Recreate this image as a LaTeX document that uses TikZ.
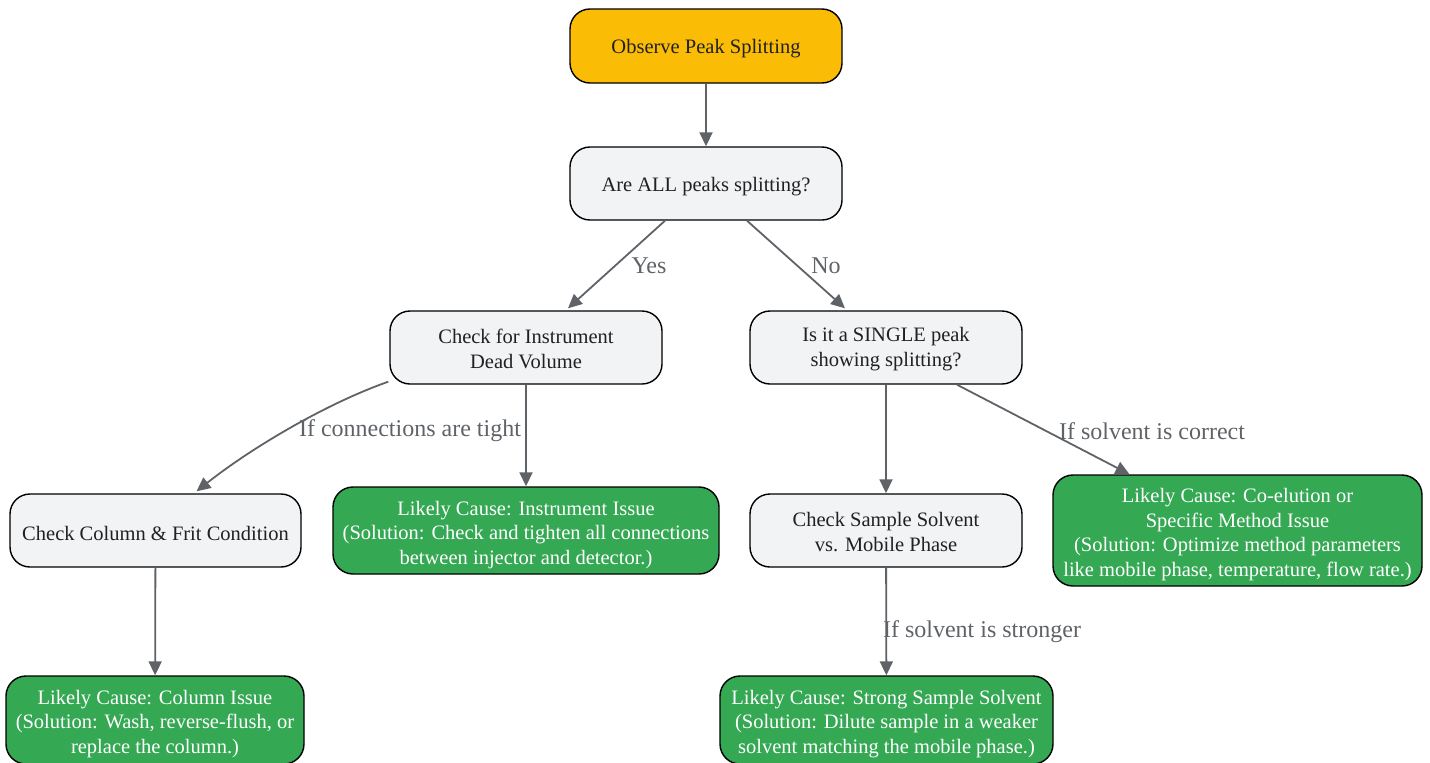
\documentclass[tikz,border=0pt]{standalone}
\usepackage{fontspec}
\setmainfont{Liberation Serif}
\usetikzlibrary{arrows.meta}
\definecolor{cyellow}{HTML}{FBBC05}
\definecolor{cgray}{HTML}{F1F3F4}
\definecolor{cgreen}{HTML}{34A853}
\definecolor{ctext}{HTML}{202124}
\definecolor{cedge}{HTML}{5F6368}
\newcommand\mytup[1]{\rule{0pt}{#1pt}}
\tikzset{
  box/.style={draw=black, line width=1.4pt, rounded corners=20pt, align=center, inner sep=0pt,
    font=\fontsize{20.5}{24.5}\selectfont},
  startbox/.style={box, fill=cyellow, text=ctext},
  stepbox/.style={box, fill=cgray, text=ctext},
  resbox/.style={box, fill=cgreen, text=white},
  edge/.style={draw=cedge, line width=1.8pt, -{Triangle[length=14pt,width=13pt]}},
  elabel/.style={text=cedge, font=\fontsize{24}{28}\selectfont, inner sep=0pt}
}
\begin{document}
\begin{tikzpicture}[x=1pt,y=-1pt]
\useasboundingbox (0,0) rectangle (1430,763);
\node[startbox, minimum width=272pt, minimum height=74pt] (n1) at (706,46) {\mytup{20}Observe Peak Splitting};
\node[stepbox, minimum width=272pt, minimum height=73pt] (n2) at (706,183.5) {\mytup{20}Are ALL peaks splitting?};
\node[stepbox, minimum width=272pt, minimum height=73pt] (n3) at (526,347.5) {\mytup{17}Check for Instrument\\Dead Volume};
\node[stepbox, minimum width=272pt, minimum height=73pt] (n4) at (886,347.5) {\mytup{17}Is it a SINGLE peak\\showing splitting?};
\node[stepbox, minimum width=291pt, minimum height=73pt] (n5) at (155.5,530.5) {\mytup{20}Check Column \& Frit Condition};
\node[resbox, minimum width=386pt, minimum height=87pt] (n6) at (526,530.5) {\mytup{23}Likely Cause: Instrument Issue\\(Solution: Check and tighten all connections\\between injector and detector.)};
\node[stepbox, minimum width=272pt, minimum height=73pt] (n7) at (886,530.5) {\mytup{17}Check Sample Solvent\\vs. Mobile Phase};
\node[resbox, minimum width=369pt, minimum height=111pt] (n8) at (1237.5,530.5) {\mytup{22.5}Likely Cause: Co-elution or\\Specific Method Issue\\(Solution: Optimize method parameters\\like mobile phase, temperature, flow rate.)};
\node[resbox, minimum width=298pt, minimum height=88pt] (n9) at (155,720) {\mytup{22}Likely Cause: Column Issue\\(Solution: Wash, reverse-flush, or\\replace the column.)};
\node[resbox, minimum width=333pt, minimum height=88pt] (n10) at (886.5,720) {\mytup{22}Likely Cause: Strong Sample Solvent\\(Solution: Dilute sample in a weaker\\solvent matching the mobile phase.)};

\draw[edge] (n1) -- (n2);
\draw[edge] ([xshift=-41pt]n2.south) -- ([xshift=42pt,yshift=2pt]n3.north);
\draw[edge] ([xshift=41pt]n2.south) -- ([xshift=-41pt,yshift=2pt]n4.north);
\draw[edge] ([xshift=-1pt,yshift=3pt]n3.south west) .. controls +(-60,21) and +(57,-45) .. ([xshift=41pt,yshift=2pt]n5.north);
\draw[edge] (n3) -- (n6);
\draw[edge] (n4) -- (n7);
\draw[edge] ([xshift=71pt]n4.south) -- ([xshift=-108pt]n8.north);
\draw[edge] (n5) -- (n9);
\draw[edge] (n7) -- (n10);

\node[elabel] (l1) at (649,266) {Yes};
\node[elabel] (l2) at (826,266) {No};
\node[elabel] (l3) at (410,431) {If connections are tight};
\node[elabel] (l4) at (1152,431) {If solvent is correct};
\node[elabel] (l5) at (982,632) {If solvent is stronger};
\end{tikzpicture}
\end{document}
